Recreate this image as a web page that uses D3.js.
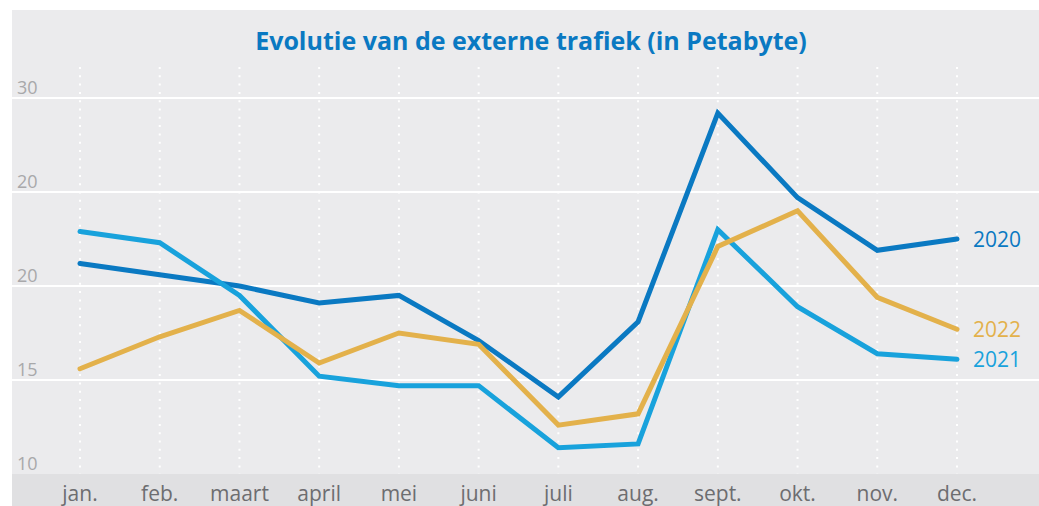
<!DOCTYPE html>
<html>
<head>
<meta charset="utf-8">
<script src="https://cdn.jsdelivr.net/npm/d3@7"></script>
<style>
  html, body { margin: 0; padding: 0; background: #fff; }
  #chart { width: 1039px; height: 506px; }
</style>
</head>
<body>
<div id="chart"></div>
<script>
// Data
const months = ['jan.', 'feb.', 'maart', 'april', 'mei', 'juni', 'juli', 'aug.', 'sept.', 'okt.', 'nov.', 'dec.'];
const years = ['2020', '2021', '2022'];
const values2020 = [21.2, 20.6, 20.0, 19.1, 19.5, 17.1, 14.1, 18.1, 29.2, 24.7, 21.9, 22.5];
const values2021 = [22.9, 22.3, 19.5, 15.2, 14.7, 14.7, 11.4, 11.6, 23.0, 18.9, 16.4, 16.1];
const values2022 = [15.6, 17.3, 18.7, 15.9, 17.5, 16.9, 12.6, 13.2, 22.1, 24.0, 19.4, 17.7];
const tickValues = [10, 15, 20, 25, 30];
const tickLabels = ['10', '15', '20', '20', '30'];
const colors = ['#0a79c2', '#18a2dc', '#e3b14b'];

const series = [values2020, values2021, values2022];

const width = 1039;
const height = 506;

const svg = d3
  .select('#chart')
  .append('svg')
  .attr('width', width)
  .attr('height', height)
  .style('font-family', "'Open Sans', 'Noto Sans', sans-serif");

// background panel + bottom band
svg.append('rect').attr('x', 12).attr('y', 10).attr('width', width - 12).attr('height', height - 10).attr('fill', '#ebebed');
svg.append('rect').attr('x', 12).attr('y', 474).attr('width', width - 12).attr('height', height - 474).attr('fill', '#e0e0e2');

const x = d3.scalePoint().domain(months).range([80, 957]);
const y = d3.scaleLinear().domain([10, 30]).range([474, 98]);

// vertical dotted lines
svg
  .selectAll('.vline')
  .data(months)
  .enter()
  .append('line')
  .attr('x1', (d) => x(d))
  .attr('x2', (d) => x(d))
  .attr('y1', 67)
  .attr('y2', 474)
  .attr('stroke', '#fff')
  .attr('stroke-width', 2)
  .attr('stroke-dasharray', '2,6.3');

// horizontal grid lines
svg
  .selectAll('.hline')
  .data(tickValues.slice(1))
  .enter()
  .append('line')
  .attr('x1', 12)
  .attr('x2', width)
  .attr('y1', (d) => y(d))
  .attr('y2', (d) => y(d))
  .attr('stroke', '#fff')
  .attr('stroke-width', 2);

// y labels
svg
  .selectAll('.ylabel')
  .data(tickValues)
  .enter()
  .append('text')
  .attr('x', 17)
  .attr('y', (d) => y(d) - 4)
  .attr('fill', '#a8a8aa')
  .style('font-size', '18px')
  .text((d, i) => tickLabels[i]);

// x labels
svg
  .selectAll('.xlabel')
  .data(months)
  .enter()
  .append('text')
  .attr('x', (d) => x(d))
  .attr('y', 501)
  .attr('text-anchor', 'middle')
  .attr('fill', '#6d6d70')
  .style('font-size', '21px')
  .text((d) => d);

// lines
const line = d3
  .line()
  .x((d, i) => x(months[i]))
  .y((d) => y(d));

svg
  .selectAll('.series')
  .data(series)
  .enter()
  .append('path')
  .attr('d', line)
  .attr('fill', 'none')
  .attr('stroke', (d, i) => colors[i])
  .attr('stroke-width', 5)
  .attr('stroke-linecap', 'round');

// end labels
svg
  .selectAll('.endlabel')
  .data(series)
  .enter()
  .append('text')
  .attr('x', x(months[11]) + 16)
  .attr('y', (d) => y(d[11]) + 8)
  .attr('fill', (d, i) => colors[i])
  .style('font-size', '21px')
  .text((d, i) => years[i]);

// title
svg
  .append('text')
  .attr('x', 531)
  .attr('y', 50)
  .attr('text-anchor', 'middle')
  .attr('fill', '#0a79c2')
  .style('font-size', '25px')
  .style('font-weight', 'bold')
  .text('Evolutie van de externe trafiek (in Petabyte)');
</script>
</body>
</html>
